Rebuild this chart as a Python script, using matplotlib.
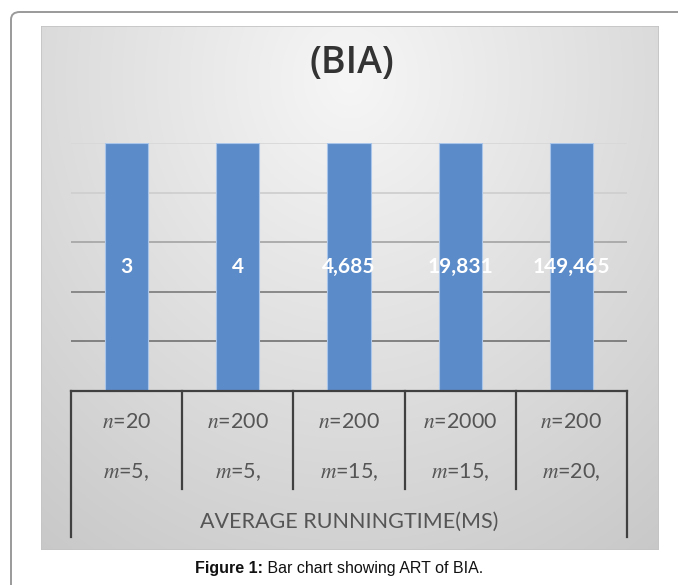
import numpy as np
import matplotlib
matplotlib.use("Agg")
import matplotlib.pyplot as plt
from matplotlib.patches import FancyBboxPatch, Rectangle
import matplotlib.transforms as mtransforms

# ---- data ----
n_labels = ["20", "200", "200", "2000", "200"]
m_labels = ["5,", "5,", "15,", "15,", "20,"]
value_labels = ["3", "4", "4,685", "19,831", "149,465"]
bar_heights = [100, 100, 100, 100, 100]   # all bars drawn to the same height in the original
grid_ticks = [20, 40, 60, 80, 100]
axis_title = "AVERAGE RUNNINGTIME(MS)"
chart_title = "(BIA)"
caption_bold = "Figure 1:"
caption_rest = " Bar chart showing ART of BIA."

plt.rcParams['mathtext.fontset'] = 'custom'
plt.rcParams['mathtext.rm'] = 'Lato'
plt.rcParams['mathtext.it'] = 'STIXGeneral:italic'
plt.rcParams['font.family'] = ['Lato', 'DejaVu Sans']

W, H = 678, 585
fig = plt.figure(figsize=(W / 100, H / 100), dpi=100)
fig.patch.set_facecolor('white')

def fx(x):
    return x / W

def fy(y):
    return 1 - y / H

# outer rounded frame (cropped at right and bottom)
frame = FancyBboxPatch((fx(11), fy(640)), fx(700), (640 - 12) / H,
                       boxstyle="round,pad=0,rounding_size=0.013",
                       transform=fig.transFigure, facecolor='none',
                       edgecolor='#9a9a9a', linewidth=1.4, zorder=0)
fig.patches.append(frame)

# gray gradient panel
px0, py0, px1, py1 = 41, 26, 659, 550
bg = fig.add_axes([fx(px0), fy(py1), fx(px1 - px0), (py1 - py0) / H], zorder=0)
yy, xx = np.mgrid[0:1:300j, 0:1:300j]
r = np.sqrt(((xx - 0.5) / 0.75) ** 2 + ((yy - 0.1) / 1.0) ** 2)
img = 0.965 - 0.16 * r
img = np.clip(img, 0.78, 0.97)
bg.imshow(np.dstack([img, img, img]), aspect='auto', extent=[0, 1, 1, 0],
          interpolation='bilinear')
bg.set_xlim(0, 1)
bg.set_ylim(1, 0)
bg.axis('off')
bg.add_patch(Rectangle((0, 0), 1, 1, transform=bg.transAxes, fill=False,
                       edgecolor='#c4c4c4', linewidth=1.2))

# main plot axes
ax_l, ax_r, ax_t, ax_b = 71, 627, 143, 391
ax = fig.add_axes([fx(ax_l), fy(ax_b), fx(ax_r - ax_l), (ax_b - ax_t) / H], zorder=2)
ax.set_facecolor('none')
x = np.arange(len(bar_heights))
ax.set_xlim(-0.5, len(bar_heights) - 0.5)
ax.set_ylim(0, 100)

grid_colors = ['#7a7a7a', '#828282', '#a8a8a8', '#cfcfcf', '#d8d8d8']
for t, c in zip(grid_ticks, grid_colors):
    ax.axhline(t, color=c, linewidth=1.3, zorder=1)

bars = ax.bar(x, bar_heights, width=0.39, color='#5b8bc8',
              edgecolor='#a9c6ea', linewidth=0.8, zorder=2)
for xi, h, lab in zip(x, bar_heights, value_labels):
    ax.text(xi, h / 2, lab, ha='center', va='center', color='white',
            fontsize=15, fontweight='bold', zorder=3)

for s in ax.spines.values():
    s.set_visible(False)
ax.set_xticks([])
ax.set_yticks([])

# table-like category axis below the plot
trans = mtransforms.blended_transform_factory(ax.transData, ax.transAxes)
ph = ax_b - ax_t

def ya(ypix):
    return (ax_b - ypix) / ph

line_c = '#404040'
ax.plot([-0.5, len(x) - 0.5], [0, 0], transform=trans, color=line_c,
        linewidth=1.6, clip_on=False, zorder=4)
for xb in [-0.5, len(x) - 0.5]:
    ax.plot([xb, xb], [0, ya(537)], transform=trans, color=line_c,
            linewidth=1.6, clip_on=False, zorder=4)
for xb in np.arange(0.5, len(x) - 0.5, 1):
    ax.plot([xb, xb], [0, ya(489)], transform=trans, color=line_c,
            linewidth=1.6, clip_on=False, zorder=4)

txt_c = '#555555'
for xi, nl, ml in zip(x, n_labels, m_labels):
    ax.text(xi, ya(422), r'$n$' + '=' + nl, transform=trans, ha='center',
            va='center', fontsize=15.5, color=txt_c, clip_on=False)
    ax.text(xi, ya(472), r'$m$' + '=' + ml, transform=trans, ha='center',
            va='center', fontsize=15.5, color=txt_c, clip_on=False)
ax.text((len(x) - 1) / 2, ya(522), axis_title, transform=trans, ha='center',
        va='center', fontsize=15.5, color=txt_c, clip_on=False)

# chart title
fig.text(fx(352), fy(63), chart_title, ha='center', va='center',
         fontsize=27, fontweight=600, color='#333333', family='Open Sans')

# caption: bold part + regular part, centered together
renderer = fig.canvas.get_renderer()
t1 = fig.text(0, fy(569), caption_bold, ha='left', va='center', fontsize=11.5,
              fontweight='bold', color='#111111', family='Liberation Sans')
t2 = fig.text(0, fy(569), caption_rest, ha='left', va='center', fontsize=11.5,
              color='#111111', family='Liberation Sans')
w1 = t1.get_window_extent(renderer).width
w2 = t2.get_window_extent(renderer).width
start = 339 - (w1 + w2) / 2
t1.set_x(fx(start))
t2.set_x(fx(start + w1))

fig.savefig('out.png', dpi=100, facecolor='white')
